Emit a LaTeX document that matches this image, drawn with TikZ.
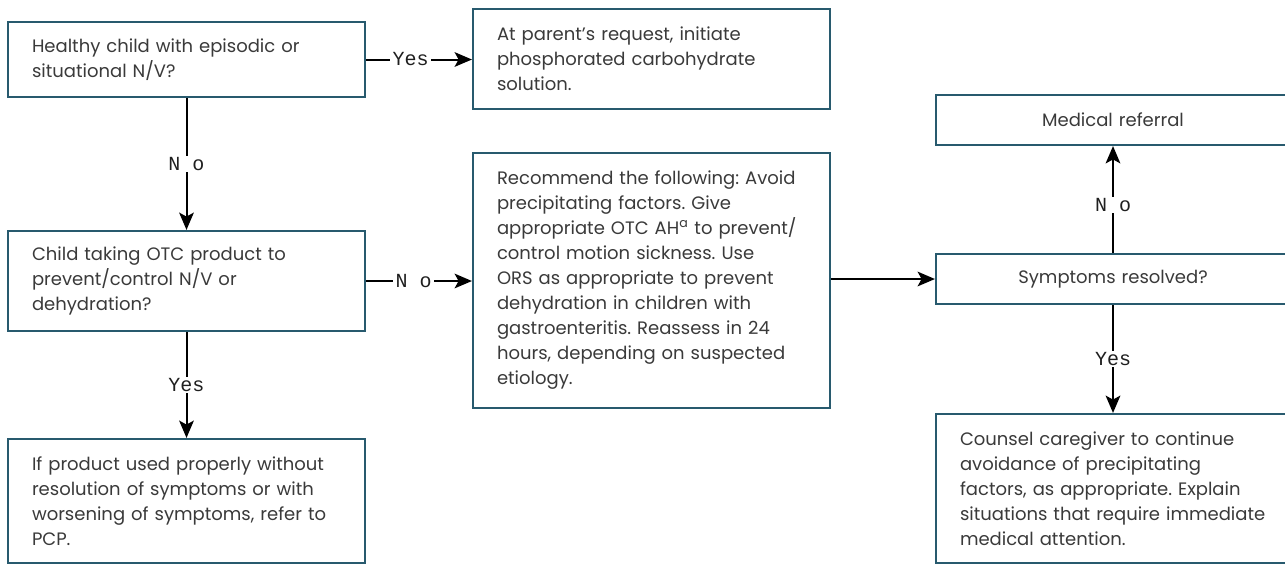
\documentclass[tikz,border=0pt]{standalone}
\usepackage{fontspec}
\setmainfont{Poppins}
\newfontfamily\answerfont{Liberation Mono}
\usetikzlibrary{arrows.meta}
\definecolor{boxline}{RGB}{40,90,110}
\definecolor{boxtext}{RGB}{58,58,58}
\frenchspacing
\tikzset{
  flowbox/.style={draw=boxline, line width=1.6pt, fill=white, text=boxtext,
    inner xsep=18pt, inner ysep=0pt, text width=231.75pt, align=left,
    minimum height=#1, font=\fontsize{13.5}{18.75}\selectfont},
  sidebox/.style={flowbox=#1, text width=229.5pt},
  answer/.style={fill=white, text=black!88, inner xsep=2pt, inner ysep=1pt,
    font=\answerfont\fontsize{15}{15}\selectfont},
}

\begin{document}
\begin{tikzpicture}[x=0.75pt, y=-0.75pt, >={Stealth[length=13pt,width=11pt,inset=3pt]}, line width=1.5pt]
  \useasboundingbox (0,0) rectangle (1285,565);

  \node[flowbox=56.25pt] (healthy) at (186.5,59.5)
    {Healthy child with episodic or\\ situational N/V?};
  \node[flowbox=75pt] (parent) at (651.5,59)
    {At parent’s request, initiate\\ phosphorated carbohydrate\\ solution.};
  \node[flowbox=75pt] (child) at (186.5,281)
    {Child taking OTC product to\\ prevent/control N/V or\\ dehydration?};
  \node[flowbox=93pt] (ifprod) at (186.5,501)
    {If product used properly without\\ resolution of symptoms or with\\
     worsening of symptoms, refer to\\ PCP.};
  \node[flowbox=191.25pt] (recommend) at (651.5,280.5)
    {Recommend the following: Avoid\\ precipitating factors. Give\\
     appropriate OTC AH\textsuperscript{a} to prevent/\\ control motion sickness. Use\\
     ORS as appropriate to prevent\\ dehydration in children with\\
     gastroenteritis. Reassess in 24\\ hours, depending on suspected\\ etiology.};
  \node[sidebox=37.5pt, align=center] (referral) at (1113,120) {Medical referral};
  \node[sidebox=37.5pt, align=center] (symptoms) at (1113,279) {Symptoms resolved?};
  \node[sidebox=111.75pt] (counsel) at (1113,488.5)
    {Counsel caregiver to continue\\ avoidance of precipitating\\
     factors, as appropriate. Explain\\ situations that require immediate\\
     medical attention.};

  \draw[->] (healthy.east) -- (healthy.east -| parent.west)
    node[answer, pos=0.42] {Yes};
  \draw[->] (healthy.south) -- (child.north) node[answer, midway] {N o};
  \draw[->] (child.east) -- (child.east -| recommend.west)
    node[answer, pos=0.45] {N o};
  \draw[->] (child.south) -- (ifprod.north) node[answer, midway] {Yes};
  \draw[->] (symptoms.west -| recommend.east) -- (symptoms.west);
  \draw[->] (symptoms.north) -- (referral.south) node[answer, pos=0.45] {N o};
  \draw[->] (symptoms.south) -- (counsel.north) node[answer, midway] {Yes};
\end{tikzpicture}
\end{document}
